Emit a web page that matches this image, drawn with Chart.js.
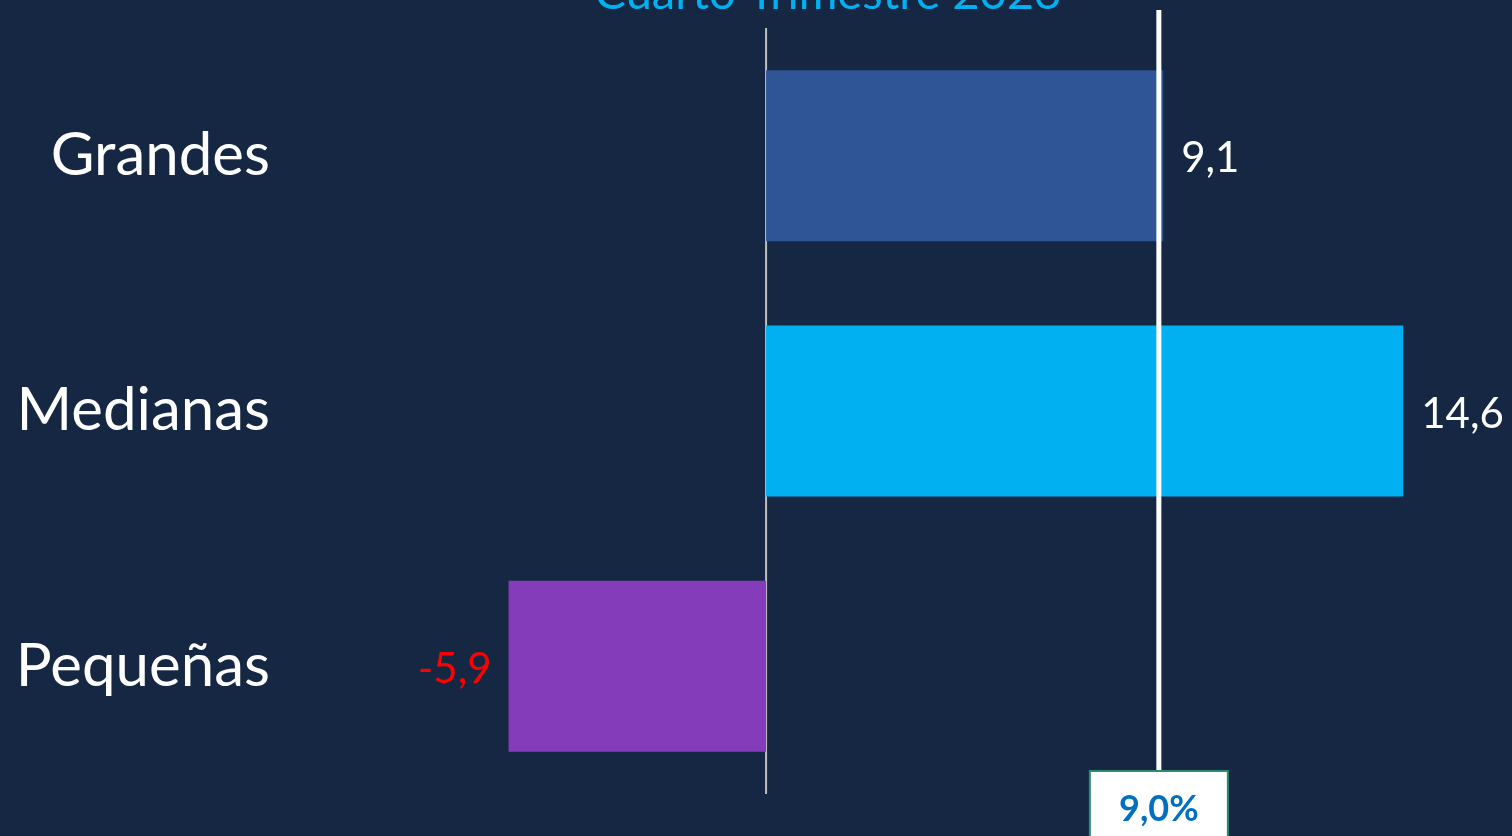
<!DOCTYPE html>
<html>
<head>
<meta charset="utf-8">
<script src="https://cdn.jsdelivr.net/npm/chart.js@4.4.1/dist/chart.umd.min.js"></script>
<style>
  html, body { margin: 0; padding: 0; background: #162744; }
  #wrap { width: 1512px; height: 836px; position: relative; }
</style>
</head>
<body>
<div id="wrap"><canvas id="c"></canvas></div>
<script>
const categories = ["Grandes", "Medianas", "Pequeñas"];
const values = [9.1, 14.6, -5.9];
const barColors = ["#2F5597", "#00B0F0", "#843CBA"];
const titleText = "Cuarto Trimestre 2023";
const referenceValue = 9.0;
const referenceLabel = "9,0%";

const fmt = v => v.toFixed(1).replace(".", ",");

const overlay = {
  id: "overlay",
  beforeDatasetsDraw(chart) {
    const ctx = chart.ctx;
    const x = chart.scales.x;
    const area = chart.chartArea;
    const x0 = x.getPixelForValue(0);
    ctx.save();
    ctx.strokeStyle = "#BFBFBF";
    ctx.lineWidth = 2;
    ctx.beginPath();
    ctx.moveTo(x0, area.top);
    ctx.lineTo(x0, area.bottom);
    ctx.stroke();
    ctx.restore();
  },
  afterDatasetsDraw(chart) {
    const ctx = chart.ctx;
    const x = chart.scales.x;
    const meta = chart.getDatasetMeta(0);
    ctx.save();
    ctx.font = "42px Lato";
    ctx.textBaseline = "middle";
    meta.data.forEach((bar, i) => {
      const v = values[i];
      if (v >= 0) {
        ctx.fillStyle = "#FFFFFF";
        ctx.textAlign = "left";
        ctx.fillText(fmt(v), bar.x + 18, bar.y + 3);
      } else {
        ctx.fillStyle = "#FF0000";
        ctx.textAlign = "right";
        ctx.fillText(fmt(v), bar.x - 17, bar.y + 3);
      }
    });
    const xr = x.getPixelForValue(referenceValue);
    ctx.strokeStyle = "#FFFFFF";
    ctx.lineWidth = 5;
    ctx.beginPath();
    ctx.moveTo(xr, 10);
    ctx.lineTo(xr, 771);
    ctx.stroke();
    ctx.fillStyle = "#FFFFFF";
    ctx.fillRect(xr - 69, 771, 138, 70);
    ctx.strokeStyle = "#2E8B6E";
    ctx.lineWidth = 2;
    ctx.strokeRect(xr - 69, 771, 138, 70);
    ctx.fillStyle = "#0070C0";
    ctx.font = "bold 36px Lato";
    ctx.textAlign = "center";
    ctx.textBaseline = "alphabetic";
    ctx.fillText(referenceLabel, xr, 821);
    ctx.fillStyle = "#00B0F0";
    ctx.font = "47px Lato";
    ctx.textAlign = "center";
    ctx.fillText(titleText, 828, 9);
    ctx.restore();
  }
};

new Chart(document.getElementById("c"), {
  type: "bar",
  data: {
    labels: categories,
    datasets: [{
      data: values,
      backgroundColor: barColors,
      borderWidth: 0,
      categoryPercentage: 1,
      barPercentage: 0.67
    }]
  },
  options: {
    indexAxis: "y",
    responsive: true,
    maintainAspectRatio: false,
    animation: false,
    layout: { padding: { top: 28, bottom: 42, left: 0, right: 4 } },
    plugins: { legend: { display: false }, tooltip: { enabled: false }, title: { display: false } },
    scales: {
      x: { display: false, min: -11, max: 17 },
      y: {
        grid: { display: false },
        border: { display: false },
        ticks: { color: "#FFFFFF", font: { family: "Lato", size: 60 }, padding: 8 },
        afterFit(scale) { scale.width = 286; scale.paddingTop = 0; scale.paddingBottom = 0; }
      }
    }
  },
  plugins: [overlay]
});
</script>
</body>
</html>
